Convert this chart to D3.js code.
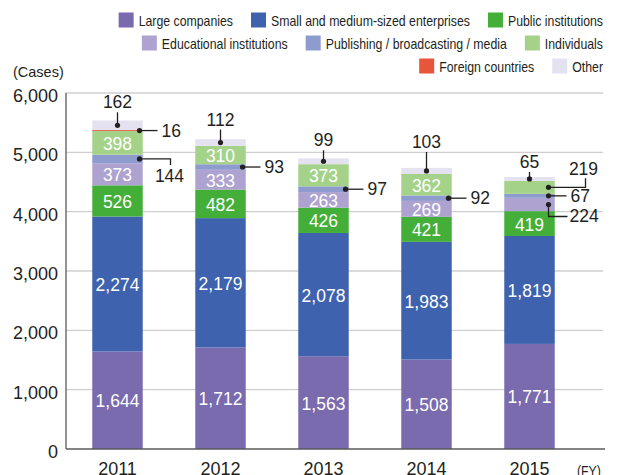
<!DOCTYPE html>
<html>
<head>
<meta charset="utf-8">
<script src="https://cdn.jsdelivr.net/npm/d3@7/dist/d3.min.js"></script>
<style>
  body { margin: 0; background: #fff; }
  svg { display: block; }
  text { font-family: "Liberation Sans", Arial, sans-serif; fill: #231f20; }
</style>
</head>
<body>
<script>
// ---- data ----
const years = ["2011", "2012", "2013", "2014", "2015"];
const seriesNames = [
  "Large companies",
  "Small and medium-sized enterprises",
  "Public institutions",
  "Educational institutions",
  "Publishing / broadcasting / media",
  "Individuals",
  "Foreign countries",
  "Other",
];
const largeCompanies = [1644, 1712, 1563, 1508, 1771];
const smallMedium = [2274, 2179, 2078, 1983, 1819];
const publicInst = [526, 482, 426, 421, 419];
const educational = [373, 333, 263, 269, 224];
const publishing = [144, 93, 97, 92, 67];
const individuals = [398, 310, 373, 362, 219];
const foreign = [16, 0, 0, 0, 0];
const other = [162, 112, 99, 103, 65];
const yTicks = [0, 1000, 2000, 3000, 4000, 5000, 6000];

const seriesValues = [largeCompanies, smallMedium, publicInst, educational, publishing, individuals, foreign, other];
const colors = ["#7a6aae", "#3e62ae", "#43ae38", "#aea3d0", "#8e9bcf", "#a3d288", "#e8553a", "#e4e1f1"];

// rows of the legend (indices into seriesNames)
const legendRows = [[0, 1, 2], [3, 4, 5], [6, 7]];

// which segments get a label inside the bar: [seriesIndex] -> years shown
const insideLabels = {
  0: [0, 1, 2, 3, 4],
  1: [0, 1, 2, 3, 4],
  2: [0, 1, 2, 3, 4],
  3: [0, 1, 2, 3],
  5: [0, 1, 2, 3],
};

// callouts outside the bars (layout only)
const callouts = [
  { y: 0, s: 7, type: "top", up: 23 },
  { y: 0, s: 6, type: "side", dx: 22 },
  { y: 0, s: 4, type: "elbowDown", dx: 22 },
  { y: 1, s: 7, type: "top", up: 23 },
  { y: 1, s: 4, type: "side", dx: 22 },
  { y: 2, s: 7, type: "top", up: 21 },
  { y: 2, s: 4, type: "side", dx: 22 },
  { y: 3, s: 7, type: "top", up: 29 },
  { y: 3, s: 4, type: "side", dx: 22 },
  { y: 4, s: 7, type: "top", up: 17 },
  { y: 4, s: 5, type: "elbowUp", dx: 19 },
  { y: 4, s: 4, type: "side", dx: 19 },
  { y: 4, s: 3, type: "elbowDown2", dx: 19 },
];

// no condensed font installed, so squeeze the regular one
function condense(sel, k) {
  const w = sel.node().getComputedTextLength();
  sel.attr("textLength", w * k).attr("lengthAdjust", "spacingAndGlyphs");
  return w * k;
}

// ---- chart ----
const W = 618, H = 475;
const svg = d3.select("body").append("svg").attr("width", W).attr("height", H);

const x = d3.scaleBand().domain(years).range([66, 581]).paddingInner(0.51).paddingOuter(0.255);
const y = d3.scaleLinear().domain([0, 6000]).range([449, 93]);

// stacked table
const table = years.map((yr, i) => {
  const row = { year: yr };
  seriesNames.forEach((n, s) => (row[n] = seriesValues[s][i]));
  return row;
});
const stacked = d3.stack().keys(seriesNames)(table);

// gridlines
svg.append("g")
  .selectAll("line")
  .data(yTicks.filter((t) => t > 0))
  .join("line")
  .attr("x1", 66).attr("x2", 603)
  .attr("y1", (d) => y(d)).attr("y2", (d) => y(d))
  .attr("stroke", "#cfcfcf").attr("stroke-width", 1.3);

// tick labels
svg.append("g")
  .selectAll("text")
  .data(yTicks)
  .join("text")
  .attr("x", 58)
  .attr("y", (d) => y(d) + 3)
  .attr("text-anchor", "end")
  .attr("dominant-baseline", "central")
  .style("font-size", "18px")
  .text((d) => d3.format(",")(d));

svg.append("text")
  .attr("x", 13).attr("y", 72)
  .attr("dominant-baseline", "central")
  .style("font-size", "14.5px")
  .text("(Cases)");

// bars
svg.append("g")
  .selectAll("g")
  .data(stacked)
  .join("g")
  .attr("fill", (d, i) => colors[i])
  .selectAll("rect")
  .data((d) => d)
  .join("rect")
  .attr("x", (d) => x(d.data.year))
  .attr("width", x.bandwidth())
  .attr("y", (d) => y(d[1]))
  .attr("height", (d) => y(d[0]) - y(d[1]));

// axes lines
svg.append("line").attr("x1", 66).attr("x2", 66).attr("y1", 93).attr("y2", 449)
  .attr("stroke", "#5a5a5a").attr("stroke-width", 1.3);
svg.append("line").attr("x1", 66).attr("x2", 605).attr("y1", 449).attr("y2", 449)
  .attr("stroke", "#5a5a5a").attr("stroke-width", 1.3);

// x labels
svg.append("g")
  .selectAll("text")
  .data(years)
  .join("text")
  .attr("x", (d) => x(d) + x.bandwidth() / 2)
  .attr("y", 469)
  .attr("text-anchor", "middle")
  .attr("dominant-baseline", "central")
  .style("font-size", "18px")
  .text((d) => d);
const fy = svg.append("text")
  .attr("x", 577).attr("y", 470)
  .attr("dominant-baseline", "central")
  .style("font-size", "15px")
  .text("(FY)");
condense(fy, 0.82);

// labels inside bars
const fmt = d3.format(",");
const inner = svg.append("g");
Object.entries(insideLabels).forEach(([s, yrs]) => {
  yrs.forEach((i) => {
    const seg = stacked[+s][i];
    inner.append("text")
      .attr("x", x(years[i]) + x.bandwidth() / 2)
      .attr("y", (y(seg[0]) + y(seg[1])) / 2 + 1)
      .attr("text-anchor", "middle")
      .attr("dominant-baseline", "central")
      .style("font-size", "17.5px")
      .style("fill", "#fff")
      .text(fmt(seriesValues[s][i]));
  });
});

// callouts
const co = svg.append("g");
callouts.forEach((c) => {
  const seg = stacked[c.s][c.y];
  const cx = x(years[c.y]) + x.bandwidth() / 2;
  const my = (y(seg[0]) + y(seg[1])) / 2;
  const label = fmt(seriesValues[c.s][c.y]);
  let px = cx, pts, tx, ty, anchor = "start";
  if (c.type === "top") {
    pts = [[cx, my], [cx, my - c.up + 10]];
    tx = cx; ty = my - c.up; anchor = "middle";
  } else {
    px = cx + c.dx;
    if (c.type === "side") {
      pts = [[px, my], [px + 18, my]];
      tx = px + 22; ty = my;
    } else if (c.type === "elbowDown") {
      pts = [[px, my], [px + 31, my], [px + 31, my + 6]];
      tx = px + 30; ty = my + 17; anchor = "middle";
    } else if (c.type === "elbowUp") {
      pts = [[px, my], [px + 37, my], [px + 37, my - 9]];
      tx = px + 35; ty = my - 18; anchor = "middle";
    } else {
      pts = [[px, my], [px, my + 12], [px + 19, my + 12]];
      tx = px + 21; ty = my + 12;
    }
  }
  co.append("path")
    .attr("d", d3.line()(pts))
    .attr("fill", "none")
    .attr("stroke", "#231f20")
    .attr("stroke-width", 1.3);
  co.append("circle").attr("cx", px).attr("cy", my).attr("r", 2.6).attr("fill", "#231f20");
  co.append("text")
    .attr("x", tx).attr("y", ty)
    .attr("text-anchor", anchor)
    .attr("dominant-baseline", "central")
    .style("font-size", "17.5px")
    .text(label);
});

// legend, right aligned at x = 603
const legend = svg.append("g");
const rowY = [20, 43, 66];
legendRows.forEach((row, r) => {
  let right = 603;
  row.slice().reverse().forEach((s) => {
    const t = legend.append("text")
      .attr("y", rowY[r])
      .attr("dominant-baseline", "central")
      .style("font-size", "15px")
      .text(seriesNames[s]);
    const w = condense(t, 0.82);
    t.attr("x", right - w);
    legend.append("rect")
      .attr("x", right - w - 20).attr("y", rowY[r] - 7.5)
      .attr("width", 15).attr("height", 15)
      .attr("fill", colors[s]);
    right = right - w - 20 - 18;
  });
});
</script>
</body>
</html>
